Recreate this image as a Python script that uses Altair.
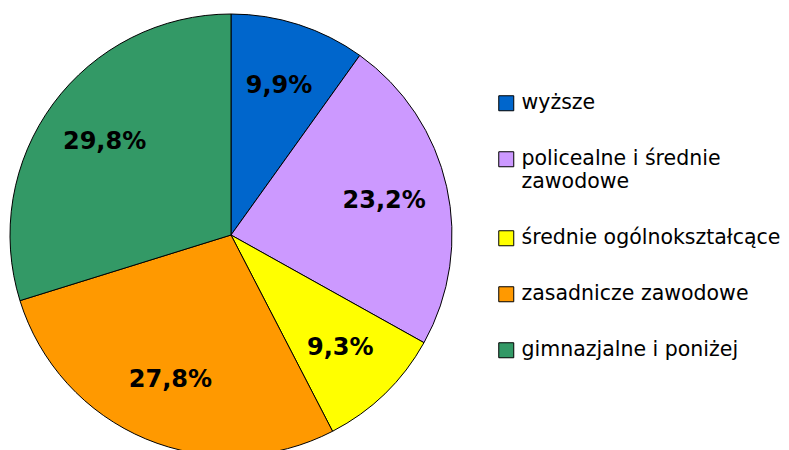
import altair as alt
import pandas as pd

categories = [
    "wyższe",
    "policealne i średnie zawodowe",
    "średnie ogólnokształcące",
    "zasadnicze zawodowe",
    "gimnazjalne i poniżej",
]
shares = [9.9, 23.2, 9.3, 27.8, 29.8]
labels = ["9,9%", "23,2%", "9,3%", "27,8%", "29,8%"]
colors = ["#0066CC", "#CC99FF", "#FFFF00", "#FF9900", "#339966"]

df = pd.DataFrame({
    "kat": categories,
    "udzial": shares,
    "etykieta": labels,
    "kolej": list(range(len(categories))),
})

label_expr = (
    "datum.label == 'policealne i średnie zawodowe' ? "
    "['policealne i średnie', 'zawodowe'] : datum.label"
)

base = alt.Chart(df).encode(
    theta=alt.Theta("udzial:Q", stack=True),
    order=alt.Order("kolej:Q"),
)

pie = base.mark_arc(outerRadius=221, stroke="black", strokeWidth=1).encode(
    color=alt.Color(
        "kat:N",
        sort=categories,
        scale=alt.Scale(domain=categories, range=colors),
        legend=alt.Legend(
            title=None,
            orient="none",
            legendX=488,
            legendY=85,
            symbolType="square",
            symbolSize=225,
            symbolStrokeColor="black",
            symbolStrokeWidth=1,
            symbolOpacity=1,
            labelFont="DejaVu Sans",
            labelFontSize=20.5,
            labelColor="black",
            labelOffset=5,
            labelLimit=400,
            rowPadding=35,
            labelExpr=label_expr,
        ),
    ),
    x=alt.value(223),
    y=alt.value(227),
)

text = base.mark_text(
    radius=157, font="DejaVu Sans", fontSize=24, fontWeight="bold", color="black"
).encode(
    text="etykieta:N",
    x=alt.value(223),
    y=alt.value(227),
)

chart = (
    alt.layer(pie, text)
    .properties(width=773, height=442, autosize=alt.AutoSizeParams(type="none"), padding=0)
    .configure_view(stroke=None)
)

chart.save("out.html", embed_options={"renderer": "svg", "actions": False})
